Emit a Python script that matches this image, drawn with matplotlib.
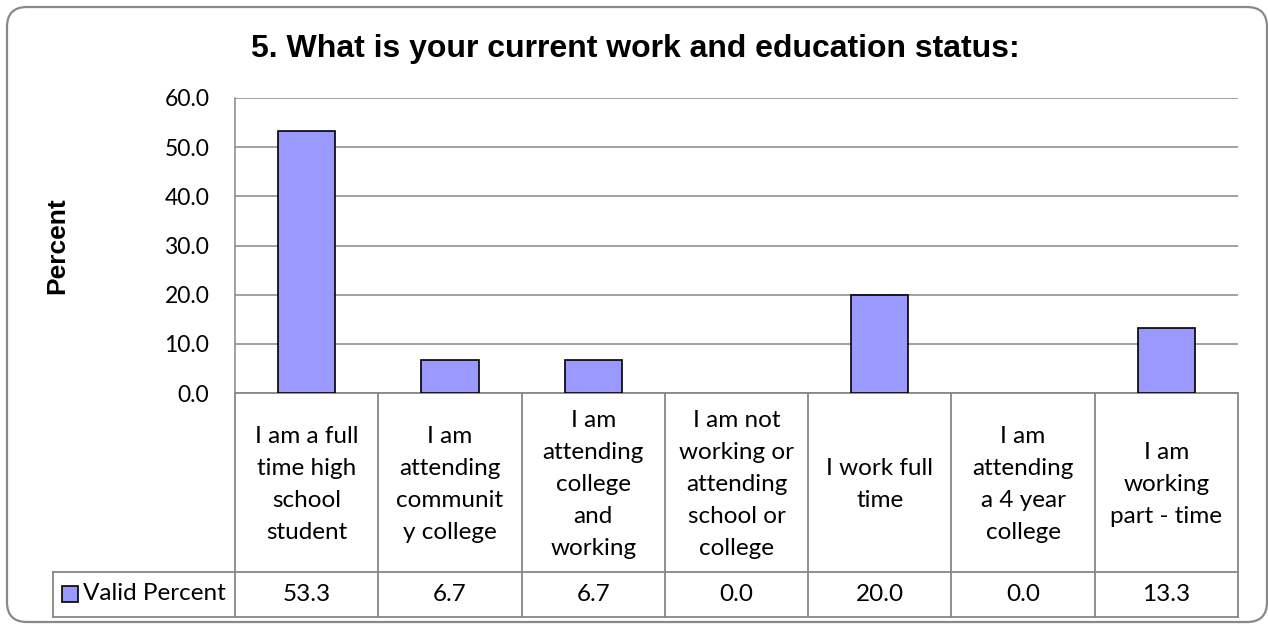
import matplotlib
matplotlib.use('Agg')
import matplotlib.pyplot as plt
from matplotlib import transforms
from matplotlib.patches import FancyBboxPatch

title = '5. What is your current work and education status:'
categories = ['I am a full\ntime high\nschool\nstudent',
              'I am\nattending\ncommunit\ny college',
              'I am\nattending\ncollege\nand\nworking',
              'I am not\nworking or\nattending\nschool or\ncollege',
              'I work full\ntime',
              'I am\nattending\na 4 year\ncollege',
              'I am\nworking\npart - time']
valid_percent = [53.3, 6.7, 6.7, 0.0, 20.0, 0.0, 13.3]
series_name = 'Valid Percent'
y_ticks = [0, 10, 20, 30, 40, 50, 60]

W, H = 1268, 626
bar_color = '#9999FF'
grid_color = '#878787'
body_font = 'Lato'
head_font = 'Liberation Sans'
body_size = 17.5

fig = plt.figure(figsize=(W / 100, H / 100), dpi=100)

# rounded chart frame (in inches)
frame = FancyBboxPatch((0.07, 0.04), 12.6, 6.15,
                       boxstyle='round,pad=0,rounding_size=0.2',
                       transform=fig.dpi_scale_trans, fill=False,
                       edgecolor='#888888', linewidth=1.6)
fig.patches.append(frame)

# plot area in pixels: x 235..1238, y 98..393
left, right, top, bottom = 235, 1238, 98, 393
ax = fig.add_axes([left / W, (H - bottom) / H, (right - left) / W, (bottom - top) / H])

x = list(range(len(categories)))
edges = ['black' if v > 0 else 'none' for v in valid_percent]
ax.bar(x, valid_percent, width=0.4, color=bar_color, edgecolor=edges,
       linewidth=1.2, zorder=3)

ax.set_xlim(-0.5, len(categories) - 0.5)
ax.set_ylim(0, 60)
ax.set_yticks(y_ticks)
ax.set_yticklabels(['%.1f' % v for v in y_ticks], fontsize=16.5, family=body_font)
ax.set_xticks([])
ax.tick_params(axis='y', length=0, pad=18.5)
ax.yaxis.grid(True, color=grid_color, linewidth=1.1)
ax.set_axisbelow(True)
for s in ['top', 'right', 'bottom']:
    ax.spines[s].set_visible(False)
ax.spines['left'].set_color(grid_color)
ax.spines['left'].set_linewidth(1.1)

fig.text(57 / W, 1 - 245.5 / H, 'Percent', rotation=90, ha='center', va='center',
         fontsize=19, fontweight='bold', family=head_font)

fig.text((253 + 1018) / 2 / W, 1 - 57 / H, title, ha='center', va='baseline',
         fontsize=23, fontweight='bold', family=head_font)

# data table under the axis
tr = transforms.blended_transform_factory(ax.transData, ax.transAxes)
px = bottom - top
row1 = -(572 - bottom) / px
row2 = -(617 - bottom) / px
cell_w = (right - left) / len(categories)
legend_left = -0.5 - (left - 53) / cell_w
n = len(categories)
line_kw = dict(color=grid_color, linewidth=1.3, transform=tr, clip_on=False)
ax.plot([-0.5, n - 0.5], [0, 0], **line_kw)
ax.plot([legend_left, n - 0.5], [row1, row1], **line_kw)
ax.plot([legend_left, n - 0.5], [row2, row2], **line_kw)
ax.plot([legend_left, legend_left], [row1, row2], **line_kw)
for i in range(n + 1):
    ax.plot([i - 0.5, i - 0.5], [0, row2], **line_kw)

for i, (cat, v) in enumerate(zip(categories, valid_percent)):
    ax.text(i, row1 / 2 - 0.008, cat, transform=tr, ha='center', va='center',
            fontsize=body_size, family=body_font, linespacing=1.65)
    ax.text(i, (row1 + row2) / 2, '%.1f' % v, transform=tr, ha='center',
            va='center', fontsize=body_size, family=body_font)

ax.plot([70 / W], [1 - 594 / H], marker='s', markersize=11.5, markerfacecolor=bar_color,
        markeredgecolor='black', markeredgewidth=1.2, transform=fig.transFigure,
        clip_on=False)
ax.text(83 / W, 1 - 594 / H, series_name, transform=fig.transFigure, ha='left',
        va='center', fontsize=body_size, family=body_font)

fig.savefig('out.png', dpi=100)
